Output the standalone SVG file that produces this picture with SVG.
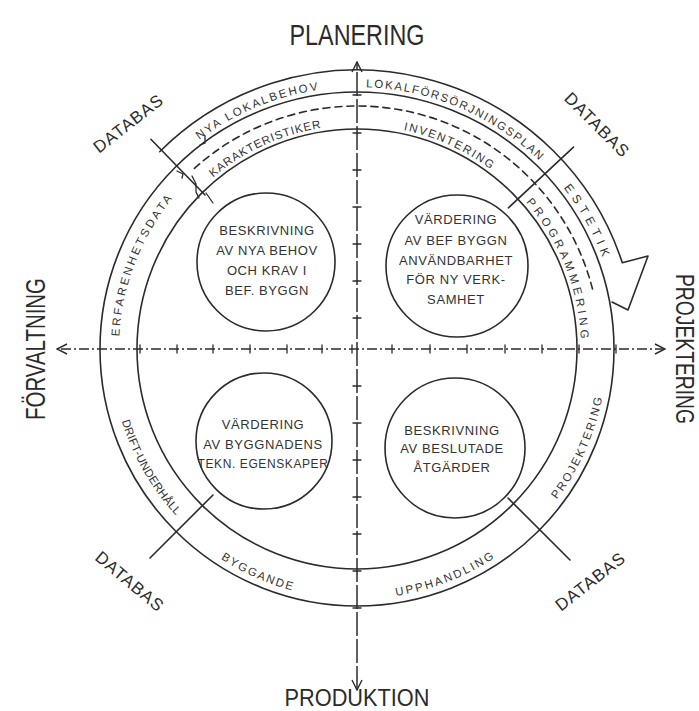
<svg xmlns="http://www.w3.org/2000/svg" width="699" height="711" viewBox="0 0 699 711">
<style>
.ln{fill:none;stroke:#2b2b2b;stroke-width:1.6;stroke-linecap:round;stroke-linejoin:round}
.thin{fill:none;stroke:#2b2b2b;stroke-width:1.3;stroke-linecap:round}
.dash{stroke-dasharray:7 5}
.axh{fill:none;stroke:#2b2b2b;stroke-width:1.4;stroke-dasharray:10 3 2 3}
.axv{fill:none;stroke:#2b2b2b;stroke-width:1.5;stroke-dasharray:24 3}
.big{font-family:"Liberation Sans",Arial,sans-serif;fill:#2b2b2b;text-anchor:middle}
.db{font-family:"Liberation Sans",Arial,sans-serif;font-size:17px;fill:#2b2b2b;text-anchor:middle;letter-spacing:1px}
.rt{font-family:"Liberation Sans",Arial,sans-serif;font-size:11.5px;fill:#333}
.ct{font-family:"Liberation Sans",Arial,sans-serif;font-size:13px;fill:#333;text-anchor:middle;letter-spacing:0.6px}
</style>
<defs>
<marker id="arr" viewBox="0 0 12 12" refX="11" refY="6" markerWidth="12" markerHeight="12" markerUnits="userSpaceOnUse" orient="auto-start-reverse">
<path d="M1,1 L11,6 L1,11" fill="none" stroke="#2b2b2b" stroke-width="1.4"/>
</marker>
<path id="p1" d="M199.3,139.8 A262,262 0 0,1 325.1,89.0"/>
<path id="p2" d="M366.1,87.2 A262,262 0 0,1 542.3,163.7"/>
<path id="p3" d="M213.0,177.4 A224,224 0 0,1 325.8,127.2"/>
<path id="p4" d="M403.6,129.9 A224,224 0 0,1 494.9,172.5"/>
<path id="p5" d="M563.5,187.7 A262,262 0 0,1 604.7,263.7"/>
<path id="p6" d="M526.1,202.0 A224,224 0 0,1 581.0,345.1"/>
<path id="p7" d="M556.7,499.5 A250,250 0 0,0 603.2,392.4"/>
<path id="p8" d="M396.1,595.9 A250,250 0 0,0 500.4,553.8"/>
<path id="p9" d="M220.8,558.7 A250,250 0 0,0 296.5,591.6"/>
<path id="p10" d="M121.7,420.9 A246,246 0 0,0 177.1,516.8"/>
<path id="p11" d="M119.3,336.5 A238,238 0 0,1 182.9,186.7"/>
</defs>
<rect width="699" height="711" fill="#ffffff"/>

<g id="rings">
<circle class="ln" cx="357" cy="349" r="220"/>
<circle class="ln" cx="357" cy="349" r="257"/>
<path class="ln dash" d="M194.4,168.4 A243,243 0 0,1 592.8,290.2"/>
<path id="estetik-arrow" class="ln" d="M159.7,151.7 A279,279 0 0,1 622.3,262.8 L648,256 L628,310 L612,302"/>
<path class="thin" d="M200,145 L205,143 L205,136 M177,171 L183,174 L182,178 M192,176 L196,184 L196,192 L199,198 M206,193 L213,203"/>
</g>

<g id="dividers">
<path class="ln" d="M150.9,139.3 L205,195 M573.5,147.1 L508.4,207.8 M150,558 L213,495 M508,498 L570,560"/>
</g>

<g id="connectors">
<line class="axv" x1="357" y1="690" x2="357" y2="62" marker-start="url(#arr)" marker-end="url(#arr)"/>
<line class="axh" x1="665" y1="349" x2="57" y2="349" marker-start="url(#arr)" marker-end="url(#arr)"/>
<path class="thin" d="M140,345v8M177,345v8M213,345v8M250,345v8M287,345v8M322,345v8M352,345v8M392,345v8M430,345v8M467,345v8M505,345v8M542,345v8M579,345v8M616,345v8M353,95h8M353,133h8M353,170h8M353,207h8M353,244h8M353,281h8M353,318h8M353,386h8M353,423h8M353,460h8M353,497h8M353,534h8M353,571h8M353,608h8"/>
</g>

<g id="ring-labels" class="rt">
<text><textPath href="#p1" textLength="130" lengthAdjust="spacing">NYA LOKALBEHOV</textPath></text>
<text><textPath href="#p2" textLength="192" lengthAdjust="spacing">LOKALFÖRSÖRJNINGSPLAN</textPath></text>
<text><textPath href="#p3" textLength="120" lengthAdjust="spacing">KARAKTERISTIKER</textPath></text>
<text><textPath href="#p4" textLength="96" lengthAdjust="spacing">INVENTERING</textPath></text>
<text style="font-size:12px"><textPath href="#p5" textLength="80" lengthAdjust="spacing">ESTETIK</textPath></text>
<text><textPath href="#p6" textLength="150" lengthAdjust="spacing">PROGRAMMERING</textPath></text>
<text><textPath href="#p7" textLength="112" lengthAdjust="spacing">PROJEKTERING</textPath></text>
<text><textPath href="#p8" textLength="106" lengthAdjust="spacing">UPPHANDLING</textPath></text>
<text><textPath href="#p9" textLength="78" lengthAdjust="spacing">BYGGANDE</textPath></text>
<text><textPath href="#p10" textLength="110" lengthAdjust="spacing">DRIFT-UNDERHÅLL</textPath></text>
<text><textPath href="#p11" textLength="150" lengthAdjust="spacing">ERFARENHETSDATA</textPath></text>
</g>

<g id="node-ul">
<circle class="ln" cx="266" cy="262" r="69"/>
<text class="ct" x="267" y="235">BESKRIVNING</text>
<text class="ct" x="267" y="255">AV NYA BEHOV</text>
<text class="ct" x="267" y="275">OCH KRAV I</text>
<text class="ct" x="267" y="295">BEF. BYGGN</text>
</g>
<g id="node-ur">
<circle class="ln" cx="457" cy="266" r="71"/>
<text class="ct" x="456" y="224">VÄRDERING</text>
<text class="ct" x="456" y="245">AV BEF BYGGN</text>
<text class="ct" x="456" y="265">ANVÄNDBARHET</text>
<text class="ct" x="456" y="284">FÖR NY VERK-</text>
<text class="ct" x="456" y="304">SAMHET</text>
</g>
<g id="node-ll">
<circle class="ln" cx="264" cy="441" r="68"/>
<text class="ct" x="263" y="429">VÄRDERING</text>
<text class="ct" x="263" y="449">AV BYGGNADENS</text>
<text class="ct" x="263" y="468" style="font-size:12px">TEKN. EGENSKAPER</text>
</g>
<g id="node-lr">
<circle class="ln" cx="455" cy="448" r="70"/>
<text class="ct" x="452" y="435">BESKRIVNING</text>
<text class="ct" x="452" y="453">AV BESLUTADE</text>
<text class="ct" x="452" y="472">ÅTGÄRDER</text>
</g>

<g id="phase-labels">
<text class="big" x="357" y="45" style="font-size:30px" textLength="135" lengthAdjust="spacingAndGlyphs">PLANERING</text>
<text class="big" x="357" y="706" style="font-size:24px" textLength="145" lengthAdjust="spacingAndGlyphs">PRODUKTION</text>
<text class="big" transform="translate(45,349) rotate(-90)" style="font-size:27px" textLength="142" lengthAdjust="spacingAndGlyphs">FÖRVALTNING</text>
<text class="big" transform="translate(676,349) rotate(90)" style="font-size:25px" textLength="150" lengthAdjust="spacingAndGlyphs">PROJEKTERING</text>
</g>

<g id="database-labels">
<text class="db" transform="translate(132,128) rotate(-38)">DATABAS</text>
<text class="db" transform="translate(593,129) rotate(45)">DATABAS</text>
<text class="db" transform="translate(126,586) rotate(40)">DATABAS</text>
<text class="db" transform="translate(594,586) rotate(-38)">DATABAS</text>
</g>
</svg>
